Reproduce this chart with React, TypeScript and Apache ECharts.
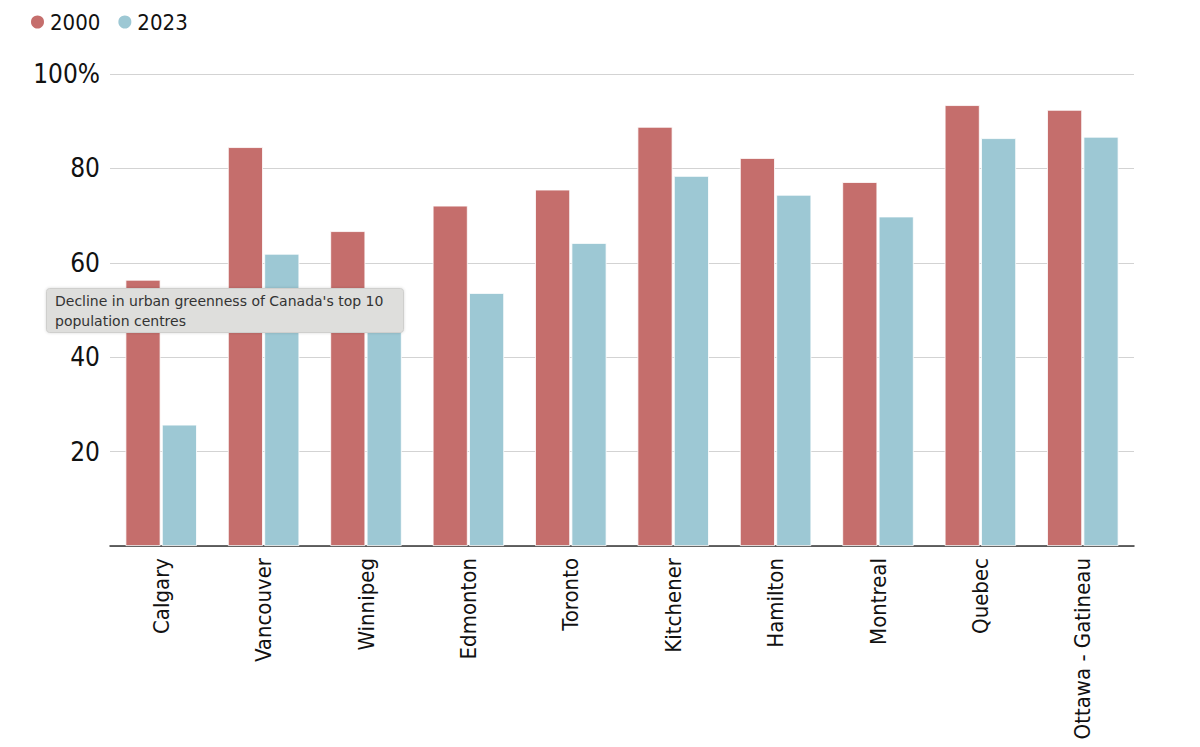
import React, { useEffect, useRef } from "react";
import * as echarts from "echarts";

const categories = ["Calgary", "Vancouver", "Winnipeg", "Edmonton", "Toronto", "Kitchener", "Hamilton", "Montreal", "Quebec", "Ottawa - Gatineau"];
const values2000 = [56.4, 84.5, 66.7, 72.1, 75.5, 88.8, 82.2, 77.1, 93.4, 92.4];
const values2023 = [25.7, 61.9, 49.0, 53.6, 64.2, 78.4, 74.4, 69.8, 86.4, 86.7];
const seriesNames = ["2000", "2023"];
const colors = ["#c56e6c", "#9dc8d4"];
const note = "Decline in urban greenness of Canada's top 10\npopulation centres";

const FONT = "'DejaVu Sans Condensed', 'Liberation Sans Narrow', 'Noto Sans', sans-serif";

export default function App() {
  const ref = useRef<HTMLDivElement>(null);
  useEffect(() => {
    const chart = echarts.init(ref.current!, null, { renderer: "svg" });
    chart.setOption({
      animation: false,
      color: colors,
      legend: {
        left: 24,
        top: 6,
        icon: "circle",
        itemWidth: 15,
        itemHeight: 15,
        itemGap: 16,
        textStyle: { fontSize: 22, color: "#111", fontFamily: FONT },
        data: seriesNames,
      },
      grid: { left: 110, right: 66, top: 74, bottom: 201, containLabel: false },
      xAxis: {
        type: "category",
        data: categories,
        axisLine: { lineStyle: { color: "#333", width: 1.5 } },
        axisTick: { show: false },
        axisLabel: { rotate: 90, fontSize: 22, color: "#111", fontFamily: FONT, margin: 12, interval: 0 },
      },
      yAxis: {
        type: "value",
        min: 0,
        max: 100,
        interval: 20,
        axisLine: { show: false },
        axisTick: { show: false },
        splitLine: { lineStyle: { color: "#d3d3d3", width: 1.2 } },
        axisLabel: {
          fontSize: 26,
          color: "#111",
          fontFamily: FONT,
          margin: 10,
          formatter: (v: number) => (v === 0 ? "" : v === 100 ? "100%" : String(v)),
        },
      },
      series: [
        {
          name: seriesNames[0],
          type: "bar",
          data: values2000,
          barWidth: 35,
          barGap: "4%",
          itemStyle: { color: colors[0], borderColor: "#fff", borderWidth: 0.8 },
        },
        {
          name: seriesNames[1],
          type: "bar",
          data: values2023,
          barWidth: 35,
          barGap: "4%",
          itemStyle: { color: colors[1], borderColor: "#fff", borderWidth: 0.8 },
        },
      ],
      graphic: [
        {
          type: "rect",
          left: 46,
          top: 288,
          z: 100,
          zlevel: 1,
          shape: { x: 0, y: 0, width: 357, height: 44, r: 3 },
          style: { fill: "#dededc", stroke: "#cfcfcd", lineWidth: 1, shadowBlur: 3, shadowColor: "rgba(0,0,0,0.15)" },
        },
        {
          type: "text",
          left: 55,
          top: 291,
          z: 101,
          zlevel: 1,
          style: { text: note, fontSize: 14, lineHeight: 20, fill: "#333", fontFamily: "'DejaVu Sans', 'Noto Sans', sans-serif" },
        },
      ],
    });
    return () => chart.dispose();
  }, []);
  return <div ref={ref} style={{ width: 1200, height: 747, position: "absolute", left: 0, top: 0, background: "#fff" }} />;
}
